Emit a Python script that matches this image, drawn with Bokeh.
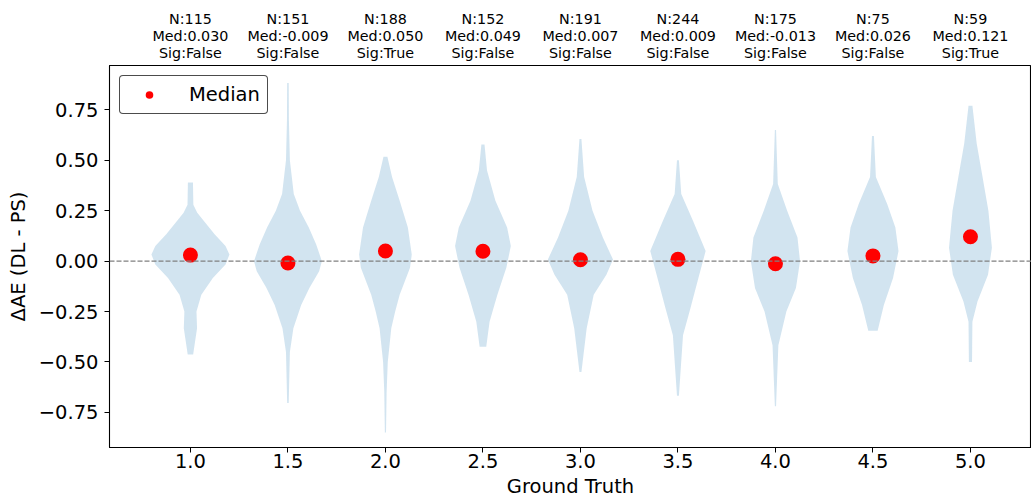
from bokeh.plotting import figure
from bokeh.layouts import column
from bokeh.models import (FixedTicker, CustomJSTickFormatter, Span,
                          Legend, LegendItem, Range1d)
from bokeh.core.properties import value
from bokeh.embed import file_html
from bokeh.resources import INLINE

# ---- data ----
ground_truth = [1.0, 1.5, 2.0, 2.5, 3.0, 3.5, 4.0, 4.5, 5.0]
counts = [115, 151, 188, 152, 191, 244, 175, 75, 59]
medians = [0.030, -0.009, 0.050, 0.049, 0.007, 0.009, -0.013, 0.026, 0.121]
significant = [False, False, True, False, False, False, False, False, True]

# violin outlines: y levels and half widths (in x data units)
v10_y = [0.39, 0.28, 0.24, 0.20, 0.133, 0.075, 0.033, -0.017, -0.083, -0.167, -0.25, -0.333, -0.417, -0.463]
v10_w = [0.013, 0.015, 0.035, 0.068, 0.124, 0.18, 0.2, 0.18, 0.115, 0.056, 0.031, 0.034, 0.021, 0.014]
v15_y = [0.883, 0.7, 0.5, 0.333, 0.25, 0.167, 0.083, 0.0, -0.05, -0.133, -0.217, -0.333, -0.45, -0.703]
v15_w = [0.004, 0.005, 0.01, 0.03, 0.062, 0.107, 0.145, 0.174, 0.16, 0.11, 0.068, 0.028, 0.01, 0.004]
v20_y = [0.517, 0.417, 0.3, 0.167, 0.033, -0.033, -0.167, -0.25, -0.333, -0.5, -0.65, -0.85]
v20_w = [0.01, 0.034, 0.073, 0.115, 0.135, 0.126, 0.073, 0.05, 0.03, 0.012, 0.006, 0.003]
v25_y = [0.578, 0.45, 0.3, 0.167, 0.075, -0.033, -0.167, -0.3, -0.425]
v25_w = [0.008, 0.021, 0.064, 0.124, 0.143, 0.12, 0.074, 0.034, 0.017]
v30_y = [0.605, 0.417, 0.25, 0.117, 0.008, -0.067, -0.167, -0.333, -0.55]
v30_w = [0.005, 0.019, 0.062, 0.115, 0.167, 0.133, 0.068, 0.032, 0.005]
v35_y = [0.5, 0.333, 0.2, 0.05, -0.083, -0.233, -0.367, -0.667]
v35_w = [0.005, 0.017, 0.077, 0.142, 0.105, 0.064, 0.026, 0.005]
v40_y = [0.65, 0.383, 0.25, 0.117, 0.0, -0.133, -0.25, -0.417, -0.72]
v40_w = [0.003, 0.012, 0.06, 0.113, 0.126, 0.105, 0.056, 0.015, 0.003]
v45_y = [0.62, 0.417, 0.283, 0.167, 0.05, -0.083, -0.217, -0.345]
v45_w = [0.005, 0.015, 0.073, 0.115, 0.131, 0.103, 0.056, 0.024]
v50_y = [0.77, 0.583, 0.417, 0.25, 0.067, -0.067, -0.2, -0.3, -0.5]
v50_w = [0.01, 0.032, 0.062, 0.092, 0.11, 0.09, 0.036, 0.01, 0.008]

violin_ys = [v10_y, v15_y, v20_y, v25_y, v30_y, v35_y, v40_y, v45_y, v50_y]
violin_ws = [v10_w, v15_w, v20_w, v25_w, v30_w, v35_w, v40_w, v45_w, v50_w]

y_ticks = [-0.75, -0.5, -0.25, 0.0, 0.25, 0.5, 0.75]

FONT = "DejaVu Sans"
TOP_H = 65

x_range = Range1d(0.585, 5.313)

# ---- header strip with per-group annotations ----
top = figure(width=1031, height=TOP_H, output_backend="svg", toolbar_location=None,
             x_range=x_range, y_range=Range1d(TOP_H, 0),
             x_axis_type=None, y_axis_type=None,
             min_border_left=109, min_border_right=0, min_border_top=0, min_border_bottom=0)
top.outline_line_color = None
top.xgrid.visible = False
top.ygrid.visible = False

line_rows = [18.3, 35.5, 52.7]
ann_x, ann_y, ann_t = [], [], []
for g, n, m, s in zip(ground_truth, counts, medians, significant):
    lines = [f"N:{n}", f"Med:{m:.3f}", f"Sig:{s}"]
    for row, t in zip(line_rows, lines):
        ann_x.append(g)
        ann_y.append(row)
        ann_t.append(t)
top.text(x=ann_x, y=ann_y, text=ann_t, text_align="center", text_baseline="alphabetic",
         text_font=value(FONT), text_font_size="14.3px", text_color="black")

# ---- main plot ----
p = figure(width=1031, height=504 - TOP_H, output_backend="svg", toolbar_location=None,
           x_range=x_range, y_range=Range1d(-0.924, 0.970),
           min_border_left=109, min_border_top=0, min_border_bottom=57, min_border_right=0)

xs, ys = [], []
for c, vy, vw in zip(ground_truth, violin_ys, violin_ws):
    left = [c - w for w in vw]
    right = [c + w for w in reversed(vw)]
    xs.append(left + right)
    ys.append(list(vy) + list(reversed(vy)))
p.patches(xs, ys, fill_color="#1f77b4", fill_alpha=0.2, line_color=None)

p.add_layout(Span(location=0, dimension="width", line_color="gray", line_dash="5 2", line_width=1.3))

p.scatter(ground_truth, medians, size=15, color="red", line_color=None)
legend_r = p.scatter(x=[-10], y=[-10], size=10, color="red", line_color=None)

legend = Legend(items=[LegendItem(label="Median", renderers=[legend_r])], location="top_left",
                margin=10, padding=7, spacing=0, glyph_width=44, glyph_height=19,
                label_height=19, label_standoff=18,
                label_text_font=FONT, label_text_font_size="19.5px", label_text_color="black",
                border_line_color="black", border_line_alpha=0.7, border_line_width=1,
                border_radius=4, background_fill_alpha=1.0)
p.add_layout(legend)

p.xgrid.visible = False
p.ygrid.visible = False
p.outline_line_color = "black"
p.outline_line_width = 1.1

p.xaxis.ticker = FixedTicker(ticks=ground_truth)
p.xaxis.formatter = CustomJSTickFormatter(code="return tick.toFixed(1);")
p.yaxis.ticker = FixedTicker(ticks=y_ticks)
p.yaxis.formatter = CustomJSTickFormatter(code="return tick.toFixed(2).replace('-', '\\u2212');")

for ax in (p.xaxis[0], p.yaxis[0]):
    ax.axis_line_color = "black"
    ax.major_tick_line_color = "black"
    ax.major_tick_out = 5
    ax.major_tick_in = 0
    ax.minor_tick_line_color = None
    ax.major_label_text_font = FONT
    ax.major_label_text_font_size = "19.5px"
    ax.major_label_text_color = "black"
    ax.axis_label_text_font = FONT
    ax.axis_label_text_font_size = "19.5px"
    ax.axis_label_text_font_style = "normal"
    ax.axis_label_text_color = "black"

p.xaxis.axis_label = "Ground Truth"
p.yaxis.axis_label = "ΔAE (DL - PS)"
p.xaxis.major_label_standoff = 1
p.xaxis.axis_label_standoff = 4
p.yaxis.major_label_standoff = 6
p.yaxis.axis_label_standoff = 6

layout = column(top, p, spacing=0)
open("out.html", "w").write(file_html(layout, INLINE))
